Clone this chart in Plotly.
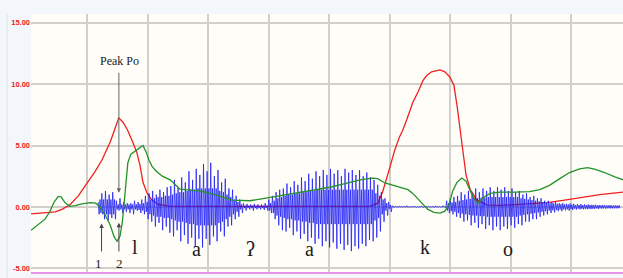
import plotly.graph_objects as go

# ---------------- data ----------------
red_t = [81.907, 81.930, 81.947, 81.958, 81.971, 81.985, 82.000, 82.013, 82.024, 82.038,
         82.046, 82.052, 82.059, 82.066, 82.074, 82.082, 82.087, 82.092, 82.099, 82.107,
         82.117, 82.137, 82.269, 82.467, 82.480, 82.488, 82.500, 82.508, 82.516, 82.521,
         82.528, 82.538, 82.547, 82.555, 82.561, 82.569, 82.583, 82.591, 82.599, 82.606,
         82.611, 82.616, 82.621, 82.626, 82.633, 82.644, 82.661, 82.682, 82.715, 82.760,
         82.789, 82.814, 82.847, 82.886]
red_v = [-0.57, -0.45, -0.40, -0.20, 0.16, 0.90, 1.95, 2.90, 3.80, 5.30,
         6.40, 7.25, 6.90, 6.30, 5.40, 4.40, 3.40, 2.00, 1.10, 0.55,
         0.20, 0.05, 0.05, 0.05, 0.30, 1.20, 3.20, 4.60, 5.70, 6.20,
         7.10, 8.50, 9.40, 10.30, 10.70, 11.00, 11.15, 11.00, 10.60, 9.90,
         8.30, 6.30, 4.20, 2.60, 1.40, 0.55, 0.15, 0.12, 0.20, 0.35,
         0.55, 0.75, 1.00, 1.20]

green_t = [81.907, 81.918, 81.930, 81.938, 81.945, 81.952, 81.957, 81.963, 81.971, 81.980,
           81.991, 82.005, 82.014, 82.021, 82.029, 82.038, 82.044, 82.049, 82.054, 82.058,
           82.061, 82.064, 82.067, 82.072, 82.079, 82.085, 82.092, 82.097, 82.102, 82.107,
           82.114, 82.124, 82.137, 82.153, 82.186, 82.211, 82.239, 82.269, 82.293, 82.327,
           82.352, 82.376, 82.401, 82.426, 82.451, 82.471, 82.480, 82.492, 82.505, 82.517,
           82.530, 82.538, 82.546, 82.555, 82.563, 82.573, 82.583, 82.591, 82.598, 82.604,
           82.611, 82.619, 82.626, 82.633, 82.640, 82.646, 82.654, 82.666, 82.682, 82.707,
           82.731, 82.748, 82.764, 82.781, 82.797, 82.814, 82.827, 82.840, 82.855, 82.872,
           82.886]
green_v = [-1.90, -1.50, -1.00, -0.40, 0.40, 0.85, 0.80, 0.35, 0.05, 0.10,
           0.25, 0.35, 0.30, 0.00, -0.60, -1.50, -2.40, -2.80, -2.40, -1.20,
           0.50, 2.50, 3.60, 4.30, 4.55, 4.80, 5.00, 4.50, 3.80, 3.30,
           2.90, 2.50, 2.20, 1.45, 1.30, 1.00, 0.55, 0.50, 0.70, 1.00,
           1.20, 1.40, 1.60, 1.90, 2.20, 2.35, 2.30, 1.95, 1.75, 1.60,
           1.40, 1.10, 0.70, 0.20, -0.20, -0.45, -0.50, -0.35, 0.20, 1.30,
           2.00, 2.35, 2.10, 1.30, 0.60, 0.30, 0.75, 1.10, 1.20, 1.20,
           1.25, 1.40, 1.75, 2.30, 2.80, 3.10, 3.20, 3.05, 2.80, 2.45,
           2.20]

# speech waveform: one entry per glottal pulse (period wave_period s, from wave_start)
wave_start = 82.018
wave_period = 0.006
wave_hi = [
    0.4, 1.1, 1.3, 1.0, 1.2,
    0.5, 0.7, 0.4, 0.3,
    0.3, 0.5, 0.4, 0.6, 0.9,
    1.1, 1.3, 1.0, 1.4, 1.2, 1.6,
    1.7, 2.2, 1.6, 2.4, 2.0, 2.9, 2.2, 3.1,
    2.6, 3.5, 2.9, 3.6, 2.5,
    3.0, 2.0, 2.3, 1.5, 1.4, 0.9,
    0.6, 0.3, 0.25, 0.2, 0.25, 0.2, 0.2, 0.3,
    0.6, 0.9, 1.2, 1.4,
    1.5, 1.9, 1.6, 2.1, 1.8, 2.4, 2.1, 2.7, 2.3, 2.9,
    2.5, 3.0, 2.6, 3.1, 2.7, 3.0, 2.5, 3.1, 2.8, 3.0, 2.6, 3.0, 2.5, 2.8, 2.4,
    2.2, 1.8, 1.2, 0.7, 0.4,
    0.1, 0.05, 0.08, 0.05, 0.1, 0.05, 0.06, 0.05, 0.08, 0.05, 0.06, 0.05, 0.08, 0.05, 0.1,
    0.5, 0.7, 0.8,
    0.9, 1.2, 1.0, 1.3, 1.1, 1.5, 1.2, 1.5,
    1.3, 1.6, 1.3, 1.6, 1.4, 1.6, 1.3, 1.5, 1.2,
    1.3, 1.0, 1.1, 0.8, 0.9, 0.7, 0.7, 0.5,
    0.5, 0.4, 0.4, 0.3, 0.3, 0.25, 0.28,
    0.25, 0.22, 0.22, 0.2, 0.2, 0.17, 0.18, 0.15, 0.16, 0.13, 0.14, 0.12, 0.12,
]
wave_lo = [
    -0.5, -1.0, -1.1, -0.9, -1.0,
    -0.3, -0.5, -0.4, -0.5,
    -0.6, -0.3, -0.5, -0.6, -1.0,
    -1.2, -1.6, -1.3, -1.9, -1.6, -2.1,
    -2.4, -1.9, -2.8, -2.3, -3.0, -2.5, -3.2, -2.6,
    -3.3, -2.6, -3.1, -2.4, -2.8,
    -2.0, -2.4, -1.6, -1.5, -1.0, -0.8,
    -0.5, -0.3, -0.2, -0.3, -0.2, -0.2, -0.25, -0.3,
    -0.5, -1.0, -1.5, -1.9,
    -2.0, -1.7, -2.3, -2.0, -2.6, -2.2, -2.8, -2.5, -3.0, -2.6,
    -3.2, -2.8, -3.3, -2.9, -3.4, -3.0, -3.5, -3.1, -3.6, -3.2, -3.4, -3.0, -3.2, -2.7, -2.8,
    -2.5, -2.0, -1.2, -0.7, -0.4,
    -0.05, -0.04, -0.05, -0.04, -0.05, -0.04, -0.05, -0.04, -0.05, -0.04, -0.05, -0.04, -0.05, -0.04, -0.08,
    -0.5, -0.6, -0.8,
    -0.9, -1.2, -1.1, -1.5, -1.3, -1.7, -1.4, -1.8,
    -1.5, -1.9, -1.6, -1.9, -1.6, -1.8, -1.5, -1.7, -1.4,
    -1.5, -1.2, -1.2, -1.0, -1.0, -0.8, -0.7, -0.6,
    -0.5, -0.45, -0.35, -0.35, -0.28, -0.3, -0.25,
    -0.22, -0.2, -0.2, -0.18, -0.18, -0.16, -0.16, -0.14, -0.14, -0.12, -0.12, -0.11, -0.1,
]
wave_core = [
    0.6, 0.6, 0.6, 0.6, 0.6,
    0.2, 0.2, 0.2, 0.2,
    0.2, 0.2, 0.25, 0.3, 0.4,
    0.6, 0.7, 0.8, 0.8, 0.9, 0.9,
    1.0, 1.1, 1.2, 1.2, 1.3, 1.4, 1.4, 1.5,
    1.5, 1.5, 1.5, 1.5, 1.5,
    1.3, 1.2, 1.0, 0.8, 0.6, 0.4,
    0.2, 0.1, 0.1, 0.1, 0.1, 0.1, 0.1, 0.1,
    0.3, 0.5, 0.7, 0.8,
    0.9, 1.0, 1.0, 1.1, 1.1, 1.2, 1.2, 1.3, 1.3, 1.4,
    1.4, 1.4, 1.4, 1.4, 1.4, 1.4, 1.4, 1.4, 1.4, 1.4, 1.4, 1.4, 1.4, 1.4, 1.4,
    1.1, 0.9, 0.6, 0.3, 0.15,
    0.02, 0.02, 0.02, 0.02, 0.02, 0.02, 0.02, 0.02, 0.02, 0.02, 0.02, 0.02, 0.02, 0.02, 0.02,
    0.3, 0.35, 0.4,
    0.5, 0.55, 0.6, 0.65, 0.7, 0.7, 0.75, 0.75,
    0.8, 0.8, 0.8, 0.8, 0.8, 0.8, 0.8, 0.8, 0.8,
    0.7, 0.65, 0.6, 0.55, 0.5, 0.45, 0.4, 0.35,
    0.3, 0.28, 0.25, 0.22, 0.2, 0.2, 0.18,
    0.15, 0.15, 0.15, 0.15, 0.15, 0.15, 0.12, 0.12, 0.12, 0.12, 0.12, 0.12, 0.12,
]

x_ticks = [82.0, 82.1, 82.2, 82.3, 82.4, 82.5, 82.6, 82.7, 82.8]
x_labels = ["82", "82.1", "82.2", "82.3", "82.4", "82.5", "82.6", "82.7", "82.8"]
y_ticks = [-5, 0, 5, 10, 15]
y_labels = ["-5.00", "0.00", "5.00", "10.00", "15.00"]

seg_labels = ["l", "a", "ʔ", "a", "k", "o"]
seg_t = [82.079, 82.181, 82.269, 82.368, 82.558, 82.695]
seg_y = [-3.3, -3.4, -3.4, -3.4, -3.3, -3.4]

# build the waveform polyline: each pulse = peak, small core swing, trough
wave_t, wave_y = [], []
for k, (h, l, c) in enumerate(zip(wave_hi, wave_lo, wave_core)):
    t = wave_start + k * wave_period
    q = wave_period / 4
    wave_t += [t, t + q, t + 2 * q, t + 3 * q]
    wave_y += [h, -c, c, l]

# ---------------- figure ----------------
fig = go.Figure()
fig.add_trace(go.Scatter(x=red_t, y=red_v, mode="lines",
                         line=dict(color="#ee2020", width=1.3), hoverinfo="skip"))
fig.add_trace(go.Scatter(x=wave_t, y=wave_y, mode="lines",
                         line=dict(color="rgb(25,25,245)", width=0.75), hoverinfo="skip"))
fig.add_trace(go.Scatter(x=green_t, y=green_v, mode="lines",
                         line=dict(color="#22922a", width=1.3), hoverinfo="skip"))

serif = "Liberation Serif, DejaVu Serif, serif"
ann = []
ann.append(dict(x=82.0532, y=11.85, text="Peak Po", showarrow=False,
                font=dict(family=serif, size=12, color="#222")))
ann.append(dict(x=82.0522, y=1.15, ax=82.0522, ay=11.05, axref="x", ayref="y",
                xref="x", yref="y", text="", showarrow=True, arrowhead=2,
                arrowsize=0.9, arrowwidth=1, arrowcolor="#666", standoff=0))
ann.append(dict(x=82.0235, y=-1.35, ax=82.0235, ay=-3.75, axref="x", ayref="y",
                xref="x", yref="y", text="", showarrow=True, arrowhead=2,
                arrowsize=0.9, arrowwidth=1, arrowcolor="#444", standoff=0))
ann.append(dict(x=82.0522, y=-1.3, ax=82.0522, ay=-3.75, axref="x", ayref="y",
                xref="x", yref="y", text="", showarrow=True, arrowhead=2,
                arrowsize=0.9, arrowwidth=1, arrowcolor="#444", standoff=0))
ann.append(dict(x=82.0177, y=-4.62, text="1", showarrow=False,
                font=dict(family=serif, size=13, color="#222")))
ann.append(dict(x=82.0524, y=-4.62, text="2", showarrow=False,
                font=dict(family=serif, size=13, color="#222")))
for lab, t, y in zip(seg_labels, seg_t, seg_y):
    ann.append(dict(x=t, y=y, text=lab, showarrow=False,
                    font=dict(family=serif, size=20, color="#1a1a1a")))

fig.update_layout(
    width=623, height=278,
    margin=dict(l=31, r=0, t=14, b=6),
    paper_bgcolor="#f3f6fa",
    plot_bgcolor="#fffdf7",
    showlegend=False,
    hovermode=False,
    annotations=ann,
    shapes=[dict(type="line", xref="paper", yref="paper", x0=-0.0405, x1=-0.0405,
                 y0=-0.03, y1=1, line=dict(color="#dce3ec", width=1))],
    xaxis=dict(range=[81.9069, 82.8855], tickvals=x_ticks, ticktext=x_labels,
               showgrid=True, gridcolor="#d2cec9", gridwidth=1.5, zeroline=False,
               showline=True, linecolor="#e596e5", linewidth=1.5, ticks="",
               automargin=False,
               tickfont=dict(family="Liberation Sans, Arial", size=8, color="#333", weight="bold")),
    yaxis=dict(range=[-5.301, 15.708], tickvals=y_ticks, ticktext=y_labels,
               showgrid=True, gridcolor="#d2cec9", gridwidth=1.5, zeroline=False,
               showline=False, ticks="", automargin=False,
               tickfont=dict(family="Liberation Sans, Arial", size=7.5, color="#ee1c1c", weight="bold")),
)

fig.write_html("out.html", config={"displayModeBar": False},
               post_script="document.body.style.margin='0px';")
